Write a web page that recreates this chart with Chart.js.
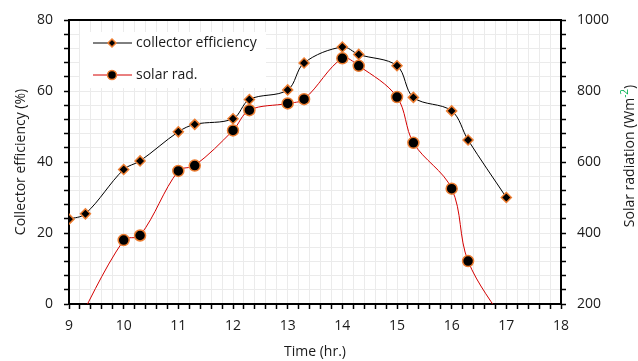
<!DOCTYPE html>
<html lang="en">
<head>
    <meta charset="UTF-8">
    <title>Collector efficiency and solar radiation</title>
    <script src="https://cdn.jsdelivr.net/npm/chart.js"></script>
    <style>
        body { margin: 0; background: #fff; }
        #wrap { width: 638px; height: 361px; }
    </style>
</head>
<body>
    <div id="wrap"><canvas id="myChart" width="638" height="361"></canvas></div>

    <script>
        // Hora del día
        const effHours = [9, 9.3, 10, 10.3, 11, 11.3, 12, 12.3, 13, 13.3, 14, 14.3, 15, 15.3, 16, 16.3, 17];
        // Eficiencia del colector (%)
        const efficiency = [23.9, 25.4, 37.9, 40.3, 48.5, 50.6, 52.2, 57.6, 60.3, 67.9, 72.4, 70.3, 67.1, 58.2, 54.4, 46.2, 30.0];
        // Radiación solar (W/m2), los extremos quedan bajo 200 y se recortan
        const radHours = [9, 10, 10.3, 11, 11.3, 12, 12.3, 13, 13.3, 14, 14.3, 15, 15.3, 16, 16.3, 17];
        const radiation = [100, 380, 393, 575, 590, 689, 746, 765, 777, 892, 871, 783, 654, 525, 321, 140];

        const xLabels = [9, 10, 11, 12, 13, 14, 15, 16, 17, 18];
        const yLabels = [0, 20, 40, 60, 80];
        const y2Labels = [200, 400, 600, 800, 1000];

        const FONT = "'Open Sans', sans-serif";
        const TXT = '#1a1a1a';
        const ORANGE = '#ED7D31';
        const RED = '#D40000';

        const toPoints = (xs, ys) => xs.map((x, i) => ({ x: x, y: ys[i] }));
        const isIn = (list, v) => list.some(l => Math.abs(l - v) < 1e-6);

        // Leyenda dentro del área del gráfico
        const boxLegend = {
            id: 'boxLegend',
            afterDraw(chart) {
                const c = chart.ctx;
                c.save();
                c.fillStyle = '#fff';
                c.fillRect(80, 32, 186, 56);
                c.font = '14px ' + FONT;
                c.textBaseline = 'middle';
                c.fillStyle = TXT;
                c.fillText('collector efficiency', 136, 43);
                c.fillText('solar rad.', 136, 75);

                c.lineWidth = 1;
                c.strokeStyle = '#000';
                c.beginPath(); c.moveTo(93, 43); c.lineTo(132, 43); c.stroke();
                c.strokeStyle = RED;
                c.beginPath(); c.moveTo(93, 75); c.lineTo(132, 75); c.stroke();

                c.fillStyle = '#000';
                c.strokeStyle = ORANGE;
                c.lineWidth = 1.5;
                c.beginPath();
                c.moveTo(112, 39); c.lineTo(116, 43); c.lineTo(112, 47); c.lineTo(108, 43);
                c.closePath(); c.fill(); c.stroke();
                c.beginPath(); c.arc(112, 75, 4.5, 0, Math.PI * 2); c.fill(); c.stroke();
                c.restore();
            }
        };

        // Borde superior y título del eje derecho con superíndice
        const frameAndTitle = {
            id: 'frameAndTitle',
            afterDraw(chart) {
                const c = chart.ctx;
                const a = chart.chartArea;
                c.save();
                c.strokeStyle = '#000';
                c.lineWidth = 2;
                c.beginPath(); c.moveTo(a.left - 1, a.top); c.lineTo(a.right + 1, a.top); c.stroke();

                c.translate(630, 156);
                c.rotate(-Math.PI / 2);
                c.textBaseline = 'middle';
                c.font = '14px ' + FONT;
                const main = 'Solar radiation (Wm';
                c.font = '10px ' + FONT;
                const supW = c.measureText('-2').width;
                c.font = '14px ' + FONT;
                const closeW = c.measureText(')').width;
                const total = c.measureText(main).width + supW + closeW;
                let x = -total / 2;
                c.fillStyle = TXT;
                c.fillText(main, x, 0);
                x += c.measureText(main).width;
                c.font = '10px ' + FONT;
                c.fillStyle = '#00B050';
                c.fillText('-2', x, -5);
                x += supW;
                c.font = '14px ' + FONT;
                c.fillStyle = TXT;
                c.fillText(')', x, 0);
                c.restore();
            }
        };

        const ctx = document.getElementById('myChart').getContext('2d');
        const myChart = new Chart(ctx, {
            type: 'scatter',
            data: {
                datasets: [{
                    label: 'collector efficiency',
                    data: toPoints(effHours, efficiency),
                    yAxisID: 'y',
                    showLine: true,
                    borderColor: '#000',
                    borderWidth: 1,
                    pointStyle: 'rectRot',
                    pointRadius: 5,
                    pointBackgroundColor: '#000',
                    pointBorderColor: ORANGE,
                    pointBorderWidth: 1.5,
                    tension: 0.35
                }, {
                    label: 'solar rad.',
                    data: toPoints(radHours, radiation),
                    yAxisID: 'y2',
                    showLine: true,
                    borderColor: RED,
                    borderWidth: 1,
                    pointStyle: 'circle',
                    pointRadius: 5.5,
                    pointBackgroundColor: '#000',
                    pointBorderColor: ORANGE,
                    pointBorderWidth: 1.5,
                    tension: 0.35
                }]
            },
            options: {
                responsive: false,
                animation: false,
                events: [],
                layout: { padding: { top: 20, left: 0, right: 0, bottom: 0 } },
                elements: { line: { capBezierPoints: false } },
                plugins: { legend: { display: false }, tooltip: { enabled: false } },
                scales: {
                    x: {
                        type: 'linear',
                        min: 9, max: 18,
                        afterFit: s => { s.height = 57; },
                        border: { color: '#000', width: 2 },
                        grid: { color: '#ebebeb', tickColor: '#000', tickLength: 5, tickWidth: 1.5 },
                        ticks: {
                            stepSize: 0.2, autoSkip: false, maxRotation: 0, padding: 9,
                            color: TXT, font: { family: FONT, size: 14 },
                            callback: v => isIn(xLabels, v) ? String(Math.round(v)) : ''
                        },
                        title: { display: true, text: 'Time (hr.)', color: TXT, padding: 1, font: { family: FONT, size: 14 } }
                    },
                    y: {
                        position: 'left',
                        min: 0, max: 80,
                        afterFit: s => { s.width = 69; },
                        border: { color: '#000', width: 2 },
                        grid: { color: '#ebebeb', tickColor: '#000', tickLength: 5, tickWidth: 1.5 },
                        ticks: {
                            stepSize: 4, autoSkip: false, padding: 11,
                            color: TXT, font: { family: FONT, size: 14 },
                            callback: v => isIn(yLabels, v) ? String(Math.round(v)) : ''
                        },
                        title: { display: true, text: 'Collector efficiency (%)', color: TXT, padding: 13, font: { family: FONT, size: 14 } }
                    },
                    y2: {
                        position: 'right',
                        min: 200, max: 1000,
                        afterFit: s => { s.width = 77; },
                        border: { color: '#000', width: 2 },
                        grid: { drawOnChartArea: false, tickColor: '#000', tickLength: 5, tickWidth: 1.5 },
                        ticks: {
                            stepSize: 40, autoSkip: false, padding: 11,
                            color: TXT, font: { family: FONT, size: 14 },
                            callback: v => isIn(y2Labels, v) ? String(Math.round(v)) : ''
                        }
                    }
                }
            },
            plugins: [boxLegend, frameAndTitle]
        });
    </script>
</body>
</html>
